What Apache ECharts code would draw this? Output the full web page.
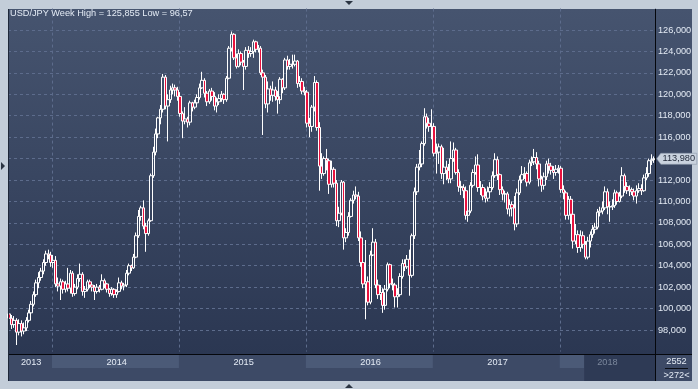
<!DOCTYPE html>
<html><head><meta charset="utf-8">
<script src="https://cdn.jsdelivr.net/npm/echarts@6/dist/echarts.min.js"></script>
<style>html,body{margin:0;padding:0;background:#c3cdd9;}#c{width:698px;height:389px;}</style>
</head><body><div id="c"></div>
<script>
const titleText = 'USD/JPY Week High = 125,855 Low = 96,57';
const startMonday = '2013-09-02';
const firstOpen = 99.5;
const closes = [
99.1,98.5,98.9,97.8,98.6,97.9,98.2,98.9,99.6,100.4,
101.3,102.4,102.9,103.5,104.3,105.1,105.0,104.3,104.5,102.3,
102.1,102.5,101.8,102.3,101.9,103.3,101.4,102.0,102.8,103.2,
101.6,101.8,102.5,102.2,102.0,101.6,102.0,101.8,102.6,102.3,
101.8,101.4,101.8,101.3,101.6,102.4,102.1,102.2,103.3,104.0,
103.8,104.8,106.8,108.6,109.4,107.7,107.0,108.2,112.4,114.6,
116.3,117.8,118.6,121.6,118.9,119.5,120.4,120.6,120.4,119.8,
118.2,117.5,117.7,117.4,119.2,118.8,119.2,119.7,120.6,121.3,
120.1,119.3,120.3,119.8,118.9,119.3,119.6,120.0,119.5,121.5,
124.3,125.6,123.4,122.6,123.8,123.0,122.6,124.1,123.8,124.0,
124.9,124.2,124.3,122.0,121.6,119.1,120.5,119.9,120.4,119.8,
119.5,121.4,120.6,123.2,122.6,122.8,122.8,123.1,121.0,121.2,
120.3,120.2,117.3,117.0,118.8,121.1,116.9,113.3,112.6,114.0,
113.8,111.6,113.0,111.7,108.2,108.9,111.8,106.6,107.1,108.6,
110.1,110.6,110.5,106.6,104.3,102.3,102.5,100.6,105.0,106.2,
102.2,101.3,101.5,100.3,101.8,104.1,102.3,102.2,101.1,101.3,
103.0,104.2,103.9,104.6,103.1,106.8,110.9,113.2,113.5,115.4,
117.9,117.3,117.0,117.0,114.5,114.6,115.1,112.6,113.2,112.9,
112.1,114.0,114.8,112.7,111.4,111.3,111.0,108.7,109.1,111.5,
112.7,113.4,111.3,111.3,110.5,110.3,110.9,111.3,112.4,113.9,
112.5,111.1,110.7,110.7,109.3,109.7,109.4,107.9,110.8,112.0,
112.5,112.6,111.8,113.6,113.7,114.1,113.5,112.1,111.5,112.3,
113.5,113.3,112.9,112.7,113.0,113.1,111.1,110.8,108.7,110.2,
108.8,106.3,106.9,105.7,106.8,106.0,104.8,106.3,106.9,107.4,
107.6,109.0,109.1,109.4,110.9,109.5,109.5,109.6,110.8,110.0,
110.5,112.4,111.4,111.0,111.1,110.9,110.5,111.0,111.2,111.0,
112.2,112.6,113.8,113.9,113.98];
const highs = [
99.9,99.4,99.3,99.1,99.0,98.9,98.7,99.2,99.9,100.7,
101.6,102.7,103.4,103.8,104.6,105.4,105.5,105.3,105.0,104.9,
102.9,102.8,102.7,102.6,103.8,103.6,103.5,102.3,103.2,104.2,
103.4,102.1,102.7,102.7,102.4,102.2,102.3,102.2,103.2,102.8,
102.4,101.9,102.0,101.9,101.8,102.9,102.6,102.4,103.6,104.2,
104.1,105.1,107.1,109.2,109.6,110.1,108.0,108.4,112.6,115.1,
116.8,117.9,119.0,121.9,121.8,120.0,120.8,121.0,120.9,120.7,
120.2,118.4,118.8,117.9,119.4,119.3,119.5,120.0,121.0,122.1,
121.5,120.3,120.5,120.6,120.2,119.7,120.0,120.3,120.1,121.7,
124.5,125.86,125.7,123.8,124.2,124.0,123.2,124.4,124.5,124.4,
125.1,125.0,124.6,124.5,122.3,121.8,121.2,120.8,121.2,120.7,
120.3,121.6,121.5,123.4,123.6,123.3,123.7,123.7,123.2,121.7,
121.5,120.7,120.4,117.8,119.0,121.7,121.3,117.4,114.5,114.2,
114.9,114.0,113.8,113.2,112.0,109.5,112.0,111.9,107.5,109.0,
110.3,111.0,111.4,110.9,107.2,104.9,106.4,103.0,105.4,107.5,
106.5,102.7,102.2,101.9,102.2,104.3,104.2,102.8,102.4,101.9,
103.3,104.6,104.6,105.0,105.5,107.0,111.3,113.5,114.8,115.6,
118.7,118.2,117.8,118.6,117.3,115.4,115.4,115.3,115.0,113.8,
113.5,115.6,115.5,115.0,113.0,111.9,111.6,111.4,109.6,111.8,
113.0,114.2,114.4,111.9,111.6,111.2,111.4,111.8,112.8,114.5,
114.2,112.6,111.4,111.0,110.9,110.2,110.0,110.5,111.2,112.4,
113.3,113.2,112.8,113.9,114.2,114.9,114.6,113.8,112.4,112.7,
113.8,114.0,113.6,113.3,113.4,113.4,113.3,111.5,111.0,110.5,
110.5,109.0,107.9,107.3,107.3,107.2,106.3,106.7,107.2,107.8,
108.0,109.3,109.5,110.0,111.4,111.2,110.0,110.2,111.1,111.0,
110.9,113.2,112.6,111.8,111.5,111.3,111.2,111.5,111.7,111.6,
112.5,113.2,114.0,114.4,114.2];
const lows = [
98.7,98.1,98.2,96.6,97.5,97.4,97.6,97.9,98.7,99.4,
100.2,101.1,101.9,102.6,103.2,104.0,104.6,103.9,103.8,102.0,
101.6,100.8,101.4,101.5,101.6,101.4,101.1,101.2,101.8,102.5,
101.2,101.0,101.6,101.9,101.6,100.8,101.4,101.5,101.7,101.9,
101.5,101.1,101.2,101.0,101.0,101.5,101.8,101.7,102.0,103.1,
103.5,103.7,104.7,106.6,108.2,107.4,105.3,106.8,108.1,112.2,
114.3,115.9,117.2,118.3,118.6,115.6,119.2,120.0,119.8,119.4,
117.9,115.9,117.2,116.9,117.1,118.4,118.6,118.9,119.5,120.5,
119.7,118.9,119.1,119.4,118.5,118.3,119.0,119.3,119.1,119.3,
121.4,124.0,123.2,122.4,122.5,122.7,120.4,122.3,123.4,123.5,
123.4,123.9,123.9,121.8,116.2,118.7,118.3,119.4,119.3,119.4,
118.2,119.1,120.1,120.4,122.3,122.3,122.4,122.6,120.6,120.7,
120.0,119.9,116.9,116.0,116.5,118.4,116.6,111.0,112.1,112.4,
112.9,110.7,111.3,111.3,107.7,107.6,108.7,105.5,106.2,106.8,
108.5,109.8,110.2,106.3,103.9,101.9,99.0,100.3,100.4,104.9,
101.9,100.9,100.8,99.6,99.9,101.6,101.9,101.7,100.1,100.1,
101.1,102.8,103.5,103.7,101.2,102.9,106.5,110.6,112.9,113.2,
115.2,116.8,116.5,115.8,114.2,112.6,113.5,112.1,111.6,112.0,
111.7,111.7,113.7,112.5,110.9,110.6,110.3,108.3,108.1,108.9,
111.3,112.5,110.9,110.6,110.1,109.9,110.0,110.6,111.1,112.2,
112.0,110.6,110.1,109.9,108.8,108.6,108.6,107.3,107.6,110.6,
111.7,112.1,111.4,111.6,113.3,113.4,113.0,111.4,110.9,111.1,
112.0,112.6,112.5,112.1,112.4,112.6,110.8,110.2,108.3,108.3,
107.9,105.6,106.0,105.2,105.3,105.6,104.6,104.6,105.7,106.6,
107.0,107.4,108.6,108.8,109.2,108.8,108.1,109.2,109.4,109.7,
109.9,110.3,110.8,110.7,110.5,110.6,110.1,109.8,110.8,110.6,
110.9,112.0,112.3,113.4,113.6];
const yMin = 96, yMax = 128, yStep = 2;
const barsInfo = ['2552', '>272<'];
const thumbStartIndex = 236;
const dimYear = '2018';

const FONT = 'Liberation Sans';
const TXT = '#e4ebf5';

// weekly category dates
const dates = [];
{
  let t = Date.parse(startMonday + 'T00:00:00Z');
  for (let i = 0; i < closes.length; i++) { dates.push(new Date(t).toISOString().slice(0, 10)); t += 7 * 864e5; }
}
const ohlc = closes.map((c, i) => [i === 0 ? firstOpen : closes[i - 1], c, lows[i], highs[i]]);

// year boundaries
const yearStarts = [];
for (let i = 1; i < dates.length; i++) if (dates[i].slice(0, 4) !== dates[i - 1].slice(0, 4)) yearStarts.push(i);
const yearStartSet = new Set(yearStarts);
const segs = [0].concat(yearStarts);
const labelIdx = new Set(segs.map((s, j) => Math.round((s + (j + 1 < segs.length ? segs[j + 1] - 1 : dates.length - 1)) / 2)));
const bandStartSet = new Set([0].concat(yearStarts, [thumbStartIndex]));
const bandColors = [];
for (let j = 0; j < segs.length; j++) bandColors.push(j % 2 ? '#4b5a77' : 'rgba(0,0,0,0)');
bandColors.push('#2e3a55');

const fmt = v => v.toFixed(3).replace('.', ',');
const last = closes.length - 1;

const chart = echarts.init(document.getElementById('c'));
const stripAxis = (grid, extra) => Object.assign({
  type: 'category', gridIndex: grid, data: dates, boundaryGap: true,
  axisLine: { show: false }, axisTick: { show: false }, axisLabel: { show: false }
}, extra);

chart.setOption({
  backgroundColor: '#c3cdd9',
  animation: false,
  title: { text: titleText, left: 10, top: 9, padding: 0,
    textStyle: { color: TXT, fontSize: 9.2, fontWeight: 'normal', fontFamily: FONT } },
  graphic: [
    { type: 'rect', z: -10, silent: true, shape: { x: 8, y: 9, width: 684, height: 345 },
      style: { fill: { type: 'linear', x: 0, y: 0, x2: 0, y2: 1, colorStops: [{ offset: 0, color: '#46546f' }, { offset: 1, color: '#2b3752' }] } } },
    { type: 'rect', z: -10, silent: true, shape: { x: 8, y: 355, width: 684, height: 26 }, style: { fill: '#3d4a66' } },
    { type: 'line', z: 5, silent: true, shape: { x1: 8, y1: 354.5, x2: 692, y2: 354.5 }, style: { stroke: '#05070c', lineWidth: 1 } },
    { type: 'line', z: 5, silent: true, shape: { x1: 655.5, y1: 9, x2: 655.5, y2: 381 }, style: { stroke: '#05070c', lineWidth: 1 } },
    { type: 'line', z: 5, silent: true, shape: { x1: 8.5, y1: 9, x2: 8.5, y2: 381 }, style: { stroke: '#1e2739', lineWidth: 1 } },
    { type: 'line', z: 5, silent: true, shape: { x1: 665, y1: 368.5, x2: 688, y2: 368.5 }, style: { stroke: '#0a0d14', lineWidth: 1 } },
    { type: 'text', z: 5, silent: true, style: { text: barsInfo[0], x: 676.5, y: 361.5, align: 'center', verticalAlign: 'middle', fill: TXT, fontSize: 9.2, fontFamily: FONT } },
    { type: 'text', z: 5, silent: true, style: { text: barsInfo[1], x: 676.5, y: 375, align: 'center', verticalAlign: 'middle', fill: TXT, fontSize: 9.2, fontFamily: FONT } },
    { type: 'polygon', z: 5, silent: true, shape: { points: [[345, 1], [353, 1], [349, 5]] }, style: { fill: '#2b3442' } },
    { type: 'polygon', z: 5, silent: true, shape: { points: [[345, 388], [353, 388], [349, 384]] }, style: { fill: '#2b3442' } },
    { type: 'polygon', z: 5, silent: true, shape: { points: [[1, 162], [1, 170], [5, 166]] }, style: { fill: '#2b3442' } }
  ],
  grid: [
    { left: 8, right: 43, top: 8.57, bottom: 37.57 },
    { left: 8, right: 43, top: 355, height: 13 },
    { left: 8, right: 43, top: 368, height: 13 }
  ],
  xAxis: [
    stripAxis(0, { splitLine: { show: true, interval: i => yearStartSet.has(i), lineStyle: { color: '#5d6c8c', type: [3, 3], width: 1 } } }),
    stripAxis(1, {
      axisLabel: { show: true, inside: true, interval: i => labelIdx.has(i), formatter: v => v.slice(0, 4),
        color: v => (v.slice(0, 4) === dimYear ? '#7b879c' : TXT), fontSize: 9.2, fontFamily: FONT, margin: 6, verticalAlign: 'middle' },
      splitArea: { show: true, interval: i => bandStartSet.has(i), areaStyle: { color: bandColors } },
      splitLine: { show: true, interval: i => i === thumbStartIndex, lineStyle: { color: '#56657f' } }
    }),
    stripAxis(2, {
      splitArea: { show: true, interval: i => i === 0 || i === thumbStartIndex, areaStyle: { color: ['rgba(0,0,0,0)', '#2e3a55'] } },
      splitLine: { show: true, interval: i => i === thumbStartIndex, lineStyle: { color: '#56657f' } }
    })
  ],
  yAxis: [
    { type: 'value', gridIndex: 0, position: 'right', min: yMin, max: yMax, interval: yStep,
      axisLine: { show: false }, axisTick: { show: false },
      axisLabel: { color: TXT, fontSize: 9.2, fontFamily: FONT, margin: 3, formatter: fmt, showMinLabel: false, showMaxLabel: false },
      splitLine: { show: true, showMinLine: false, showMaxLine: false, lineStyle: { color: '#5d6c8c', type: [3, 3], width: 1 } } },
    { type: 'value', gridIndex: 1, show: false, min: 0, max: 1 },
    { type: 'value', gridIndex: 2, show: false, min: 0, max: 1 }
  ],
  series: [
    { type: 'candlestick', xAxisIndex: 0, yAxisIndex: 0, data: ohlc, barWidth: 3,
      itemStyle: { color: 'rgba(0,0,0,0)', color0: '#e8123e', borderColor: '#ffffff', borderColor0: '#ffffff', borderWidth: 1 },
      markPoint: { silent: true, symbol: 'path://M0,5.5L4,0L40,0L40,11L4,11Z', symbolSize: [40, 11], symbolOffset: [23, 0],
        itemStyle: { color: '#c9d2de', borderColor: '#8c98ab', borderWidth: 0.5 },
        label: { show: true, position: 'inside', formatter: () => fmt(closes[last]), color: '#1e2636', fontSize: 9.2, fontFamily: FONT, offset: [2, 0] },
        data: [{ coord: [dates[last], closes[last]] }] } },
    { type: 'line', xAxisIndex: 1, yAxisIndex: 1, data: [] },
    { type: 'line', xAxisIndex: 2, yAxisIndex: 2, data: [] }
  ]
});
</script></body></html>
